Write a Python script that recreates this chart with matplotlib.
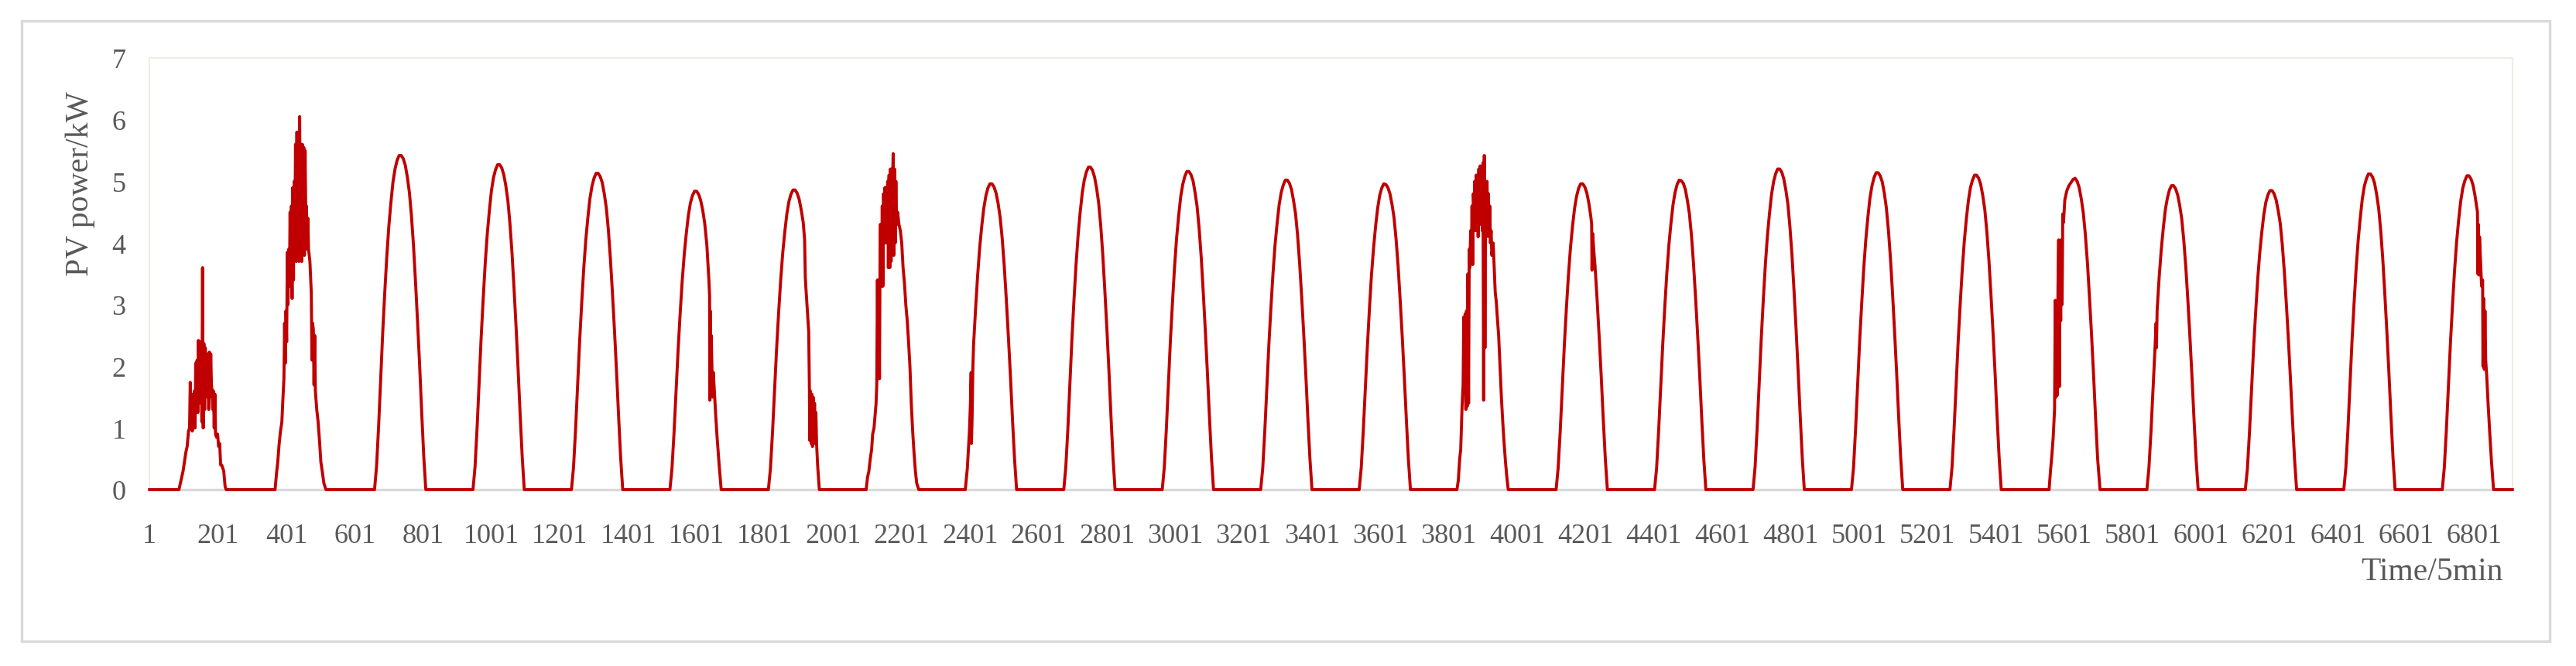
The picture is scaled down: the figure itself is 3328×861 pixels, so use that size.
import numpy as np
import matplotlib.pyplot as plt
from matplotlib.patches import Rectangle

plt.rcParams['font.family'] = ['Liberation Serif', 'DejaVu Serif']

# 5-min samples, 288 per day, 24 days
day_len = 288
n_days = 24
x_ticks = list(range(1, 6802, 200))

# offsets (sample within the day) used for the clear days
clear_t = [82, 88, 94, 100, 106, 112, 118, 124, 130, 136, 142, 148, 154,
           160, 166, 172, 178, 184, 190, 196, 202, 208, 214, 220, 226, 232]

day01_t = [86, 90, 94, 98, 102, 106, 110, 114, 117,
           119, 121, 123, 125, 127, 129, 131, 133, 135, 137, 139, 141, 143, 145, 147, 149,
           151, 153, 155, 157, 159, 161, 163, 165, 167, 169, 171, 173, 175, 177, 179, 181,
           183, 185, 187, 189, 191, 193, 196, 199, 202, 205, 208, 211, 214, 217, 221, 224]
day01_p = [0, .1, .2, .3, .45, .6, .7, .95, 1.0,
           1.74, 1.3, 1.55, .95, 1.5, 1.0, 1.6, 1.0, 2.05, 1.3, 2.1, 1.25, 2.42, 1.4, 2.2, 1.8,
           2.4, 1.1, 3.6, 1.0, 2.37, 1.3, 2.3, 1.6, 2.2, 1.5, 2.2, 1.3, 2.23, 1.5, 2.2, 1.7,
           1.6, 1.3, 1.6, 1.0, 1.55, .9, .85, .9, .7, .75, .4, .4, .35, .3, .05, 0]

day02_t = [79, 84, 87, 91, 95, 99, 101, 105,
           107, 109, 111, 113, 115, 117, 119, 121, 123, 125, 127, 129, 131, 133, 135, 137,
           139, 141, 143, 145, 147, 149, 151, 153, 155, 157, 159, 161, 163, 165, 167, 169,
           171, 173, 175, 177, 181, 185, 187, 189, 191, 193, 195, 197, 201, 205, 209, 213,
           217, 222, 228]
day02_p = [0, .3, .45, .74, .95, 1.1, 1.35, 1.8,
           2.7, 2.05, 2.9, 2.4, 3.85, 3.0, 3.9, 3.3, 4.5, 3.6, 4.6, 3.1, 4.9, 3.4, 5.0, 4.1,
           5.6, 3.7, 5.8, 4.2, 5.75, 3.7, 6.05, 4.5, 5.6, 3.7, 5.6, 4.2, 5.55, 3.8, 5.5, 4.4,
           4.6, 3.9, 4.4, 3.9, 3.7, 3.2, 2.1, 2.7, 2.6, 1.7, 2.5, 1.6, 1.3, 1.1, .8, .45,
           .3, .1, 0]

day03_p = [0, .38, 1.03, 1.79, 2.55, 3.20, 3.79, 4.28, 4.66, 4.99, 5.20, 5.34, 5.42,
           5.42, 5.37, 5.26, 5.07, 4.82, 4.44, 3.96, 3.36, 2.71, 2.01, 1.25, .54, 0]
day04_p = [0, .37, 1.00, 1.74, 2.48, 3.11, 3.69, 4.16, 4.53, 4.85, 5.06, 5.19, 5.27,
           5.27, 5.22, 5.11, 4.93, 4.69, 4.32, 3.85, 3.27, 2.64, 1.95, 1.21, .53, 0]
day05_p = [0, .36, .97, 1.69, 2.41, 3.03, 3.59, 4.05, 4.41, 4.72, 4.92, 5.05, 5.13,
           5.13, 5.08, 4.98, 4.80, 4.57, 4.21, 3.74, 3.18, 2.57, 1.90, 1.18, .51, 0]

day06_t = [82, 88, 94, 100, 106, 112, 118, 124, 130, 136, 142, 148, 154, 160, 166, 172,
           178, 184, 190, 196, 198, 199, 200, 201, 203, 205, 207, 209, 212, 216, 220, 226, 232]
day06_p = [0, .34, .92, 1.60, 2.27, 2.86, 3.39, 3.82, 4.16, 4.45, 4.65, 4.77, 4.84, 4.84,
           4.79, 4.69, 4.53, 4.31, 3.97, 3.4, 3.15, 1.45, 2.9, 1.5, 2.5, 1.95, 1.5, 1.9, 1.6,
           1.2, .85, .4, 0]

day07_t = [82, 88, 94, 100, 106, 112, 118, 124, 130, 136, 142, 148, 154, 160, 166, 172,
           178, 184, 188, 190, 192, 196, 200, 202, 203, 205, 207, 209, 211, 213, 215, 217,
           219, 221, 223, 226, 231]
day07_p = [0, .34, .92, 1.60, 2.28, 2.87, 3.40, 3.84, 4.18, 4.47, 4.67, 4.79, 4.86, 4.86,
           4.81, 4.71, 4.54, 4.33, 4.05, 3.44, 3.25, 2.9, 2.56, 1.63, .8, 1.6, .75, 1.55, .7,
           1.5, .8, 1.4, .75, 1.25, .75, .4, 0]

day08_t = [80, 84, 88, 92, 96, 99, 103, 106, 109,
           111, 113, 115, 117, 119, 121, 123, 125, 127, 129, 131, 133, 135, 137, 139, 141,
           143, 145, 147, 149, 151, 153, 155, 157, 159, 161, 163, 165, 167, 169,
           172, 176, 180, 184, 188, 192, 196, 200, 204, 208, 212, 216, 220, 224, 228, 234]
day08_p = [0, .2, .3, .5, .65, .9, 1.0, 1.2, 1.4,
           1.7, 3.4, 1.8, 3.4, 1.8, 4.3, 4.3, 3.3, 4.6, 3.3, 4.8, 4.0, 4.9, 4.0, 4.9, 4.5,
           5.0, 3.6, 5.1, 3.6, 5.2, 3.7, 5.2, 5.0, 5.45, 3.8, 5.2, 4.0, 5.0, 4.3,
           4.5, 4.3, 4.2, 4.0, 3.6, 3.35, 3.0, 2.75, 2.4, 2.0, 1.4, .95, .6, .3, .1, 0]

day09_t = [82, 88, 94, 97, 99, 100, 102, 104, 106, 112, 118, 124, 130, 136, 142, 148, 154,
           160, 166, 172, 178, 184, 190, 196, 202, 208, 214, 220, 226, 232]
day09_p = [0, .35, .94, 1.4, 1.9, .75, 1.2, 1.95, 2.33, 2.93, 3.47, 3.92, 4.27, 4.56, 4.76,
           4.89, 4.96, 4.96, 4.91, 4.81, 4.64, 4.41, 4.07, 3.62, 3.08, 2.48, 1.84, 1.14, .50, 0]

day10_p = [0, .37, .99, 1.73, 2.46, 3.09, 3.66, 4.13, 4.50, 4.81, 5.02, 5.15, 5.23,
           5.23, 5.18, 5.07, 4.89, 4.65, 4.29, 3.82, 3.24, 2.62, 1.94, 1.20, .52, 0]
day11_p = [0, .36, .98, 1.70, 2.43, 3.04, 3.61, 4.08, 4.44, 4.75, 4.95, 5.08, 5.16,
           5.16, 5.11, 5.01, 4.82, 4.59, 4.23, 3.77, 3.20, 2.58, 1.91, 1.19, .52, 0]
day12_p = [0, .35, .95, 1.66, 2.36, 2.96, 3.51, 3.97, 4.32, 4.62, 4.82, 4.94, 5.02,
           5.02, 4.97, 4.87, 4.69, 4.47, 4.12, 3.66, 3.11, 2.51, 1.86, 1.15, .50, 0]
day13_p = [0, .35, .95, 1.63, 2.32, 2.93, 3.48, 3.91, 4.27, 4.56, 4.77, 4.89, 4.96,
           4.95, 4.90, 4.80, 4.63, 4.41, 4.06, 3.62, 3.07, 2.48, 1.83, 1.14, .49, 0]

day14_t = [80, 84, 88, 91, 95, 98,
           100, 102, 104, 106, 108, 110, 112, 114, 116, 118, 120, 122, 124, 126, 128, 130,
           132, 134, 136, 138, 140, 142, 144, 146, 148, 150, 152, 154, 156, 158, 160, 162,
           164, 166, 168, 170, 172, 174, 176, 178, 180, 182,
           186, 189, 192, 195, 198, 202, 206, 210, 214, 218, 222, 226, 230]
day14_p = [0, .15, .5, .65, 1.35, 1.7,
           2.8, 1.75, 2.85, 1.3, 2.9, 1.35, 3.5, 1.4, 3.9, 3.6, 4.2, 3.7, 4.6, 3.65, 4.8, 4.5,
           5.0, 4.2, 5.1, 4.4, 5.1, 4.1, 5.2, 4.3, 5.25, 4.4, 5.1, 4.2, 5.3, 1.45, 5.42, 2.3,
           4.9, 4.1, 5.0, 4.3, 4.8, 4.1, 4.6, 4.0, 4.2, 3.8,
           4.0, 3.6, 3.2, 3.05, 2.8, 2.5, 2.0, 1.5, 1.1, .75, .45, .2, 0]

day15_t = [82, 88, 94, 100, 106, 112, 118, 124, 130, 136, 142, 148, 154, 160, 166, 172,
           178, 184, 186, 187, 189, 192, 196, 202, 208, 214, 220, 226, 232]
day15_p = [0, .35, .94, 1.64, 2.33, 2.93, 3.47, 3.92, 4.27, 4.56, 4.76, 4.89, 4.96, 4.96,
           4.91, 4.81, 4.64, 4.41, 4.3, 3.56, 4.15, 3.9, 3.62, 3.08, 2.48, 1.84, 1.14, .50, 0]

day16_p = [0, .35, .96, 1.66, 2.36, 2.97, 3.52, 3.97, 4.32, 4.62, 4.82, 4.95, 5.02,
           5.01, 4.97, 4.87, 4.69, 4.47, 4.12, 3.66, 3.11, 2.51, 1.86, 1.15, .50, 0]
day17_p = [0, .36, .99, 1.72, 2.44, 3.07, 3.64, 4.11, 4.47, 4.78, 4.99, 5.12, 5.20,
           5.20, 5.15, 5.04, 4.86, 4.63, 4.26, 3.80, 3.22, 2.60, 1.92, 1.20, .52, 0]
day18_p = [0, .36, .98, 1.70, 2.42, 3.03, 3.60, 4.06, 4.42, 4.73, 4.93, 5.06, 5.14,
           5.14, 5.09, 4.99, 4.81, 4.57, 4.21, 3.75, 3.19, 2.57, 1.90, 1.18, .51, 0]
day19_p = [0, .36, .97, 1.68, 2.40, 3.01, 3.57, 4.03, 4.39, 4.69, 4.90, 5.02, 5.10,
           5.10, 5.05, 4.95, 4.77, 4.54, 4.18, 3.72, 3.16, 2.55, 1.89, 1.17, .51, 0]

day20_t = [84, 88, 92, 96, 100, 102, 104, 106, 108, 110, 112, 114, 116, 118, 120, 122, 124,
           126, 130, 136, 142, 148, 154, 160, 166, 172, 178, 184, 190, 196, 202, 208, 214,
           220, 226, 233]
day20_p = [0, .3, .55, .85, 1.3, 3.07, 1.5, 2.1, 1.53, 3.3, 4.05, 1.67, 3.5, 2.74, 4.05, 3.0,
           4.47, 4.33, 4.7, 4.85, 4.93, 4.98, 5.03, 5.05, 5.0, 4.9, 4.72, 4.49, 4.14, 3.69,
           3.13, 2.53, 1.87, 1.16, .5, 0]

day21_t = [82, 88, 94, 100, 106, 109, 110, 112, 118, 124, 130, 136, 142, 148, 154, 160, 166,
           172, 178, 184, 190, 196, 202, 208, 214, 220, 226, 232]
day21_p = [0, .35, .94, 1.63, 2.32, 2.7, 2.3, 2.91, 3.45, 3.89, 4.24, 4.54, 4.73, 4.86, 4.93,
           4.93, 4.88, 4.78, 4.61, 4.39, 4.04, 3.60, 3.06, 2.47, 1.82, 1.13, .49, 0]

day22_p = [0, .34, .92, 1.60, 2.28, 2.86, 3.40, 3.83, 4.17, 4.46, 4.66, 4.78, 4.85,
           4.85, 4.80, 4.70, 4.53, 4.32, 3.98, 3.54, 3.01, 2.43, 1.79, 1.12, .49, 0]
day23_p = [0, .36, .97, 1.69, 2.41, 3.02, 3.58, 4.04, 4.40, 4.71, 4.92, 5.04, 5.12,
           5.12, 5.07, 4.97, 4.79, 4.56, 4.20, 3.74, 3.17, 2.56, 1.89, 1.18, .51, 0]

day24_t = [82, 88, 94, 100, 106, 112, 118, 124, 130, 136, 142, 148, 154, 160, 166, 172,
           178, 184, 185, 186, 188, 189, 191, 194, 197, 200, 201, 203, 205, 207, 209, 212,
           216, 220, 226, 232]
day24_p = [0, .36, .97, 1.68, 2.39, 3.00, 3.56, 4.02, 4.38, 4.68, 4.89, 5.01, 5.09, 5.09,
           5.04, 4.94, 4.76, 4.53, 4.5, 3.5, 4.3, 3.48, 4.1, 3.7, 3.3, 3.4, 2.0, 3.1, 1.95,
           2.9, 2.1, 1.85, 1.4, 1.0, .45, 0]

days = [(day01_t, day01_p), (day02_t, day02_p), (clear_t, day03_p), (clear_t, day04_p),
        (clear_t, day05_p), (day06_t, day06_p), (day07_t, day07_p), (day08_t, day08_p),
        (day09_t, day09_p), (clear_t, day10_p), (clear_t, day11_p), (clear_t, day12_p),
        (clear_t, day13_p), (day14_t, day14_p), (day15_t, day15_p), (clear_t, day16_p),
        (clear_t, day17_p), (clear_t, day18_p), (clear_t, day19_p), (day20_t, day20_p),
        (day21_t, day21_p), (clear_t, day22_p), (clear_t, day23_p), (day24_t, day24_p)]

xs = [1]
ys = [0]
for k, (t, p) in enumerate(days):
    xs += [day_len * k + 1 + ti for ti in t]
    ys += list(p)
xs.append(day_len * n_days)
ys.append(0)

W, H = 3328, 862
fig = plt.figure(figsize=(W / 100, H / 100), dpi=100)
ax = fig.add_axes([193 / W, 1 - 634 / H, (3246 - 193) / W, (634 - 76) / H])

ax.plot(xs, ys, color='#C00000', lw=2.8, clip_on=False, zorder=3)

ax.set_xlim(0.5, day_len * n_days + 0.5)
ax.set_ylim(0, 7)
ax.set_yticks(range(8))
ax.set_xticks(x_ticks)
ax.set_xticklabels([str(v) for v in x_ticks])
ax.tick_params(axis='both', length=0, labelsize=26, colors='#595959')
ax.tick_params(axis='x', pad=31)
ax.tick_params(axis='y', pad=22)

for s in ['left', 'top', 'right']:
    ax.spines[s].set_color('#EFECE3')
    ax.spines[s].set_linewidth(1.5)
ax.spines['bottom'].set_color('#D9D9D9')
ax.spines['bottom'].set_linewidth(2.4)

fig.text(104 / W, 1 - 238 / H, 'PV power/kW', rotation=90, fontsize=30,
         color='#595959', ha='center', va='center')
fig.text(3234 / W, 1 - 740 / H, 'Time/5min', fontsize=30, color='#595959',
         ha='right', va='center')

fig.patches.append(Rectangle((28 / W, 1 - 830 / H), (3294 - 28) / W, (830 - 28) / H,
                             transform=fig.transFigure, fill=False,
                             ec='#D9D9D9', lw=2.4))

fig.savefig('out.png', dpi=100)
